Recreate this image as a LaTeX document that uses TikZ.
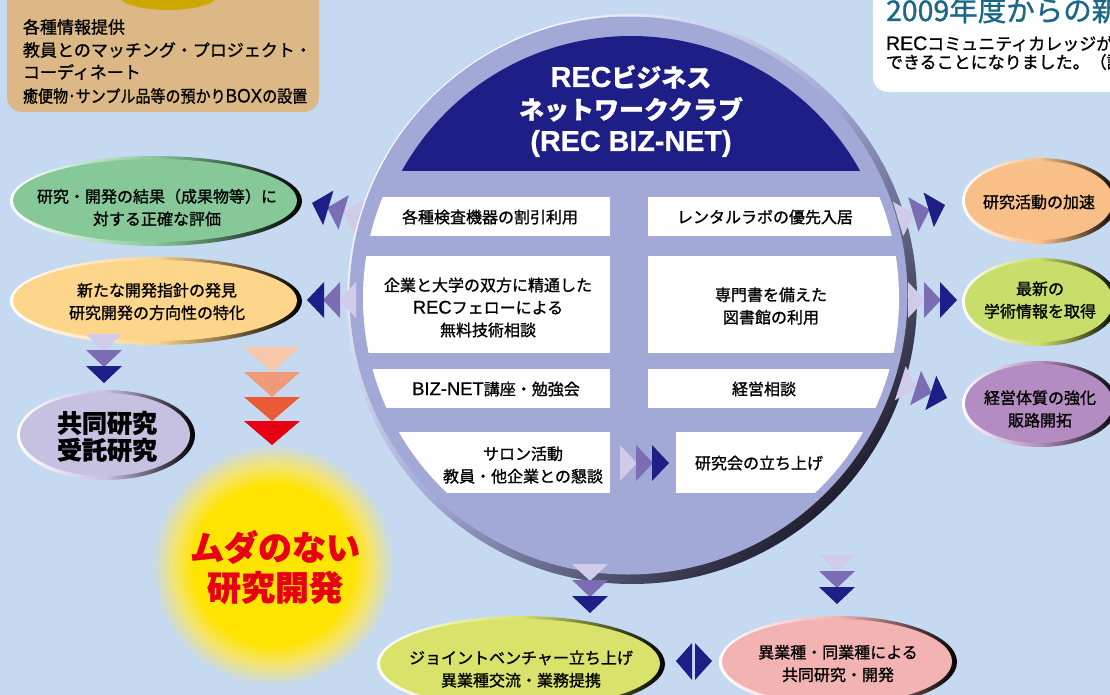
\documentclass[tikz,border=0pt]{standalone}
\usepackage{fontspec}
\setmainfont{Noto Sans CJK JP}[FakeBold=1.1]
\newfontfamily\lat{Liberation Sans}[Scale=1.15,FakeBold=0.8]
\definecolor{bgc}{HTML}{C5D9F0}
\definecolor{lav}{HTML}{A3A9D7}
\definecolor{navy}{HTML}{1E1E87}
\definecolor{tmid}{HTML}{7B6DB4}
\definecolor{tlight}{HTML}{CFCBE8}
\definecolor{ogreen}{HTML}{86C898}
\definecolor{opeach}{HTML}{FDD58B}
\definecolor{olav}{HTML}{C6C0E1}
\definecolor{oorange}{HTML}{F9BF88}
\definecolor{olime}{HTML}{C9DD6B}
\definecolor{opurple}{HTML}{B38CC1}
\definecolor{oyell}{HTML}{D9E36B}
\definecolor{opink}{HTML}{F4B3B3}
\definecolor{boxtan}{HTML}{DDB887}
\definecolor{goldc}{HTML}{CCA800}
\definecolor{titleteal}{HTML}{1A6787}
\definecolor{redtxt}{HTML}{E60012}
\definecolor{ca}{HTML}{F8C7AA}
\definecolor{cb}{HTML}{F19A79}
\definecolor{cc}{HTML}{EA5A36}
\definecolor{cd}{HTML}{E60012}
\definecolor{glowy}{HTML}{FFE400}
\definecolor{glowm}{HTML}{F4E470}
\definecolor{rimdark}{HTML}{202030}
\pgfdeclareradialshading{glow}{\pgfpointorigin}{color(0bp)=(glowy); color(16.5bp)=(glowy); color(20.5bp)=(glowm); color(25bp)=(bgc); color(50bp)=(bgc)}
\newcommand\rimoval[6]{%
  \shade[left color=white, right color=black, middle color=#6] (#2,#3) ellipse [x radius=#4, y radius=#5];
  \fill[#6] (#2-1,#3-0.5) ellipse [x radius=#4-4, y radius=#5-3.5];
  \coordinate (#1) at (#2,#3);
}
\newcommand\triarrow[3]{%
  \begin{scope}[shift={(#1,#2)},rotate=#3]
    \fill[tlight] (-32,0) -- (-49,-18) -- (-49,18) -- cycle;
    \fill[tmid] (-16,0) -- (-33,-18) -- (-33,18) -- cycle;
    \fill[navy] (0,0) -- (-17,-18) -- (-17,18) -- cycle;
  \end{scope}}
\begin{document}
\begin{tikzpicture}[x=1pt,y=-1pt,
  every node/.style={inner sep=0pt, outer sep=0pt},
  ovtxt/.style={font=\fontsize{16}{22.5}\selectfont, align=center, text=black},
  boxtxt/.style={font=\fontsize{16}{22.5}\selectfont, align=center, text=black},
  tltxt/.style={font=\fontsize{17}{23}\selectfont, anchor=west, text=black},
  trtxt/.style={font=\fontsize{17}{19}\selectfont, anchor=west, text=black}]
\useasboundingbox (0,0) rectangle (1110,695);
\clip (0,0) rectangle (1110,695);
\fill[bgc] (0,0) rectangle (1110,695);

% top-left box
\fill[boxtan, rounded corners=15] (7,-30) rectangle (319,112);
\fill[goldc] (168,-5) ellipse [x radius=50, y radius=15];
\node[tltxt] (tl1) at (23,27) {各種情報提供};
\node[tltxt] (tl2) at (23,50) {教員とのマッチング・プロジェクト・};
\node[tltxt] (tl3) at (23,72) {コーディネート};
\node[tltxt] (tl4) at (23,96) {\scalebox{0.885}[1]{癒便物･サンプル品等の預かり{\lat BOX}の設置}};

% top-right box
\fill[white, rounded corners=15] (873,-30) rectangle (1140,92);
\node[anchor=base west, font=\fontsize{28.5}{30}\selectfont, text=titleteal] (trt) at (886,21) {2009年度からの新};
\node[trtxt] (tr1) at (886,43.5) {{\lat REC}コミュニティカレッジが};
\node[trtxt] (tr2) at (886,62) {できることになりました。（詳};

% glow
\shade[shading=glow] (273,565) circle [radius=121];
\node[font=\fontsize{34}{40}\selectfont\bfseries, text=redtxt, align=center] (muda) at (275,567) {ムダのない\\研究開発};

% main circle
\shade[top color=white, bottom color=rimdark, middle color=lav, shading angle=45] (632,299) circle [radius=285];
\fill[lav] (628.5,295.5) circle [radius=279];
\coordinate (cc) at (631,298);
\begin{scope}
  \clip (631,298) circle [radius=262];
  \fill[navy] (300,0) rectangle (960,171);
\end{scope}
\begin{scope}
  \clip (631,298) circle [radius=268];
  \fill[white] (355,197) rectangle (610,236);
  \fill[white] (648,197) rectangle (905,236);
  \fill[white] (355,256) rectangle (610,353);
  \fill[white] (648,256) rectangle (905,353);
  \fill[white] (355,369) rectangle (610,408);
  \fill[white] (648,369) rectangle (905,408);
  \fill[white] (355,432) rectangle (610,493);
  \fill[white] (676,432) rectangle (905,493);
\end{scope}
\node[font=\fontsize{25}{32}\selectfont\bfseries, text=white, align=center] (title) at (631,111)
  {{\lat\bfseries REC}ビジネス\\ネットワーククラブ\\{\lat\bfseries (REC BIZ-NET)}};
\node[boxtxt] (b1l) at (490,217) {各種検査機器の割引利用};
\node[boxtxt] (b1r) at (765,217) {レンタルラボの優先入居};
\node[boxtxt] (b2l) at (488,307.5) {企業と大学の双方に精通した\\{\lat REC}フェローによる\\無料技術相談};
\node[boxtxt] (b2r) at (771,306) {専門書を備えた\\図書館の利用};
\node[boxtxt] (b3l) at (496,389) {{\lat BIZ-NET}講座・勉強会};
\node[boxtxt] (b3r) at (764,389) {経営相談};
\node[boxtxt] (b4l) at (523,465) {サロン活動\\教員・他企業との懇談};
\node[boxtxt] (b4r) at (759,463) {研究会の立ち上げ};
\triarrow{669}{463}{0}

% ovals
\rimoval{L1}{156}{201}{146}{45}{ogreen}
\node[ovtxt] (L1t) at (157,207.5) {研究・開発の結果（成果物等）に\\対する正確な評価};
\rimoval{L2}{156}{301}{146}{44}{opeach}
\node[ovtxt] (L2t) at (157,301.5) {新たな開発指針の発見\\研究開発の方向性の特化};
\rimoval{L3}{106}{435}{89}{45}{olav}
\node[font=\fontsize{25}{27}\selectfont\bfseries, align=center] (L3t) at (107,436.5) {共同研究\\受託研究};
\rimoval{R1}{1040}{201}{78}{43}{oorange}
\node[ovtxt] (R1t) at (1039,202) {研究活動の加速};
\rimoval{R2}{1040}{302}{78}{44}{olime}
\node[ovtxt] (R2t) at (1040,300) {最新の\\学術情報を取得};
\rimoval{R3}{1040}{404}{78}{43}{opurple}
\node[ovtxt] (R3t) at (1040,409) {経営体質の強化\\販路開拓};
\rimoval{B1}{521}{664}{144}{48}{oyell}
\node[ovtxt] (B1t) at (521,669) {ジョイントベンチャー立ち上げ\\異業種交流・業務提携};
\rimoval{B2}{838}{662}{119}{46}{opink}
\node[ovtxt] (B2t) at (838,663.5) {異業種・同業種による\\共同研究・開発};

% triple arrows
\triarrow{945}{205}{16.5}
\triarrow{957}{300}{0}
\triarrow{947}{398}{-17.6}
\triarrow{312}{203}{163.4}
\triarrow{307}{300}{180}
\triarrow{104}{383}{-90}
\triarrow{590}{613}{-90}
\triarrow{837}{604}{-90}

% cascade
\fill[ca] (244,347) -- (300,347) -- (272,372) -- cycle;
\fill[cb] (244,372) -- (300,372) -- (272,397) -- cycle;
\fill[cc] (244,397) -- (300,397) -- (272,421) -- cycle;
\fill[cd] (244,421) -- (300,421) -- (272,445) -- cycle;

% double arrow
\fill[navy] (676,661) -- (692,643) -- (692,680) -- cycle;
\fill[navy] (712,661) -- (695,643) -- (695,680) -- cycle;
\end{tikzpicture}
\end{document}
